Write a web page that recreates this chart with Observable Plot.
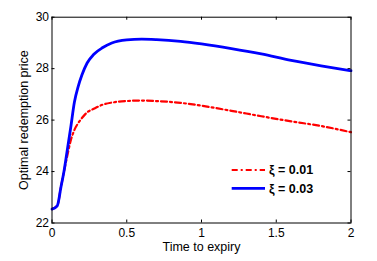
<!DOCTYPE html>
<html>
<head>
<meta charset="utf-8">
<script src="https://cdn.jsdelivr.net/npm/d3@7"></script>
<script src="https://cdn.jsdelivr.net/npm/@observablehq/plot@0.6"></script>
<style>
  html, body { margin: 0; padding: 0; background: #fff; }
  svg { display: block; }
</style>
</head>
<body>
<div id="chart"></div>
<script>
const timeToExpiry = [0, 0.035, 0.06, 0.08, 0.1, 0.125, 0.15, 0.175, 0.2, 0.235, 0.28, 0.34, 0.4, 0.5, 0.6, 0.7, 0.86, 1.0, 1.2, 1.4, 1.6, 1.8, 2.0];
const priceXi003 = [22.54, 22.67, 23.4, 24.0, 24.75, 25.7, 26.7, 27.3, 27.75, 28.22, 28.56, 28.82, 29.0, 29.12, 29.15, 29.13, 29.06, 28.96, 28.78, 28.57, 28.32, 28.11, 27.92];
const priceXi001 = [22.54, 22.67, 23.4, 24.0, 24.55, 25.2, 25.62, 25.88, 26.08, 26.3, 26.44, 26.6, 26.68, 26.74, 26.76, 26.74, 26.67, 26.56, 26.36, 26.15, 25.95, 25.77, 25.53];
const seriesLabels = ["ξ = 0.01", "ξ = 0.03"];
const xTicks = [0, 0.5, 1, 1.5, 2];
const yTicks = [22, 24, 26, 28, 30];
const xLabel = "Time to expiry";
const yLabel = "Optimal redemption price";

const W = 377, H = 261;
const mTop = 16.7, mBottom = 38.5, mLeft = 51.5, mRight = 26.5;
const innerW = W - mLeft - mRight, innerH = H - mTop - mBottom;
const tickLen = 3;

const red = timeToExpiry.map((t, i) => ({t, p: priceXi001[i]}));
const blue = timeToExpiry.map((t, i) => ({t, p: priceXi003[i]}));

const plot = Plot.plot({
  width: W, height: H,
  marginTop: mTop, marginBottom: mBottom, marginLeft: mLeft, marginRight: mRight,
  style: {fontFamily: "'Liberation Sans', Arial, sans-serif", fontSize: "12px", color: "#000", background: "#fff"},
  x: {domain: [0, 2]},
  y: {domain: [22, 30]},
  marks: [
    Plot.axisX(xTicks, {tickSize: 0, tickPadding: 5, label: null, fontSize: 12, fill: "#000", tickFormat: d => String(d)}),
    Plot.axisY(yTicks, {tickSize: 0, tickPadding: 3, label: null, fontSize: 12, fill: "#000", tickFormat: d => String(d)}),
    Plot.ruleX(xTicks, {x: d => d, insetTop: innerH - tickLen, stroke: "#000"}),
    Plot.ruleX(xTicks, {x: d => d, insetBottom: innerH - tickLen, stroke: "#000"}),
    Plot.ruleY(yTicks, {y: d => d, insetRight: innerW - tickLen, stroke: "#000"}),
    Plot.ruleY(yTicks, {y: d => d, insetLeft: innerW - tickLen, stroke: "#000"}),
    Plot.line(red, {x: "t", y: "p", stroke: "#ff0000", strokeWidth: 2.2, strokeDasharray: "6,3,2,3", curve: "monotone-x"}),
    Plot.line(blue, {x: "t", y: "p", stroke: "#0000ff", strokeWidth: 2.8, curve: "monotone-x"}),
    Plot.frame({stroke: "#000", strokeWidth: 1}),
    Plot.text([xLabel], {text: d => d, frameAnchor: "bottom", dy: 24, fontSize: 12.5, fill: "#000", lineAnchor: "middle", textAnchor: "middle"}),
    Plot.text([yLabel], {text: d => d, frameAnchor: "left", dx: -28, rotate: -90, fontSize: 12.5, fill: "#000", lineAnchor: "middle", textAnchor: "middle"})
  ]
});

// legend (no box), drawn inside the plot area
const svg = d3.select(plot);
const leg = svg.append("g")
  .attr("font-family", "'Liberation Sans', Arial, sans-serif")
  .attr("font-size", 12.5).attr("font-weight", "bold").attr("text-anchor", "start");
const legendItems = [
  {label: seriesLabels[0], color: "#ff0000", width: 2.2, dash: "6,3,2,3"},
  {label: seriesLabels[1], color: "#0000ff", width: 2.8, dash: null}
];
legendItems.forEach((d, i) => {
  const y = 170 + i * 18.3;
  leg.append("line").attr("x1", 231.7).attr("x2", 265).attr("y1", y).attr("y2", y)
    .attr("stroke", d.color).attr("stroke-width", d.width).attr("stroke-dasharray", d.dash);
  leg.append("text").attr("x", 269).attr("y", y).attr("dy", "0.35em").attr("fill", "#000")
    .attr("text-anchor", "start").text(d.label);
});

document.getElementById("chart").appendChild(plot);
</script>
</body>
</html>
